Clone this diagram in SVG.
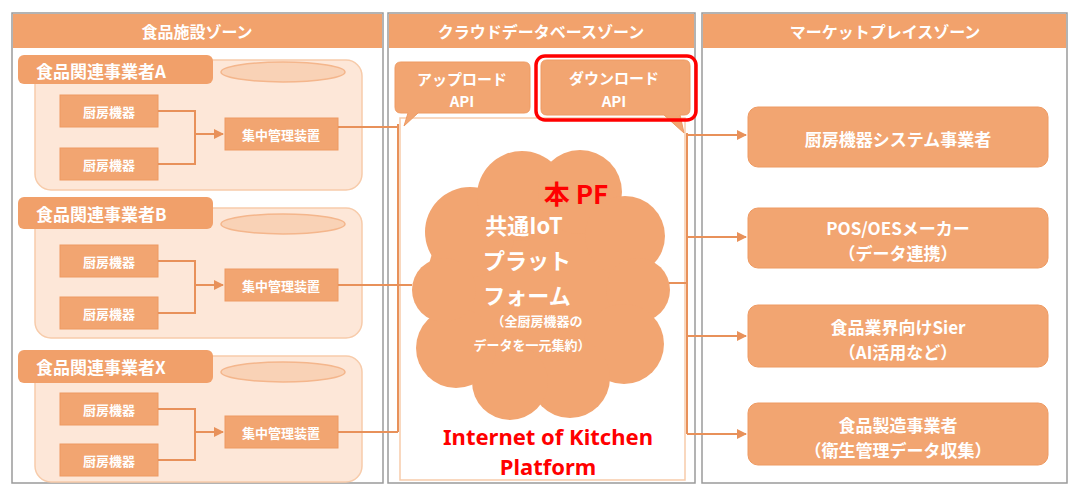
<svg xmlns="http://www.w3.org/2000/svg" width="1069" height="488" viewBox="0 0 1069 488">
<defs>
<style>
.zone{fill:#ffffff;stroke:#9a9a9a;stroke-width:1.5}
.hdr{fill:#F2A26C}
.ht{fill:#ffffff;font-family:"Noto Sans CJK JP","Noto Sans",sans-serif;font-weight:bold;font-size:16px;text-anchor:middle;dominant-baseline:central}
.reg{fill:#FDE7D8;stroke:#F7CBAA;stroke-width:1.5}
.tab{fill:#F1A06A}
.tt{fill:#ffffff;font-family:"Noto Sans CJK JP","Noto Sans",sans-serif;font-weight:bold;font-size:17px;dominant-baseline:central}
.ell{fill:#F9D2B6;stroke:#F4B68C;stroke-width:1.5}
.box{fill:#F2A571;stroke:#EE9A62;stroke-width:1}
.bt{fill:#ffffff;font-family:"Noto Sans CJK JP","Noto Sans",sans-serif;font-weight:bold;font-size:13px;text-anchor:middle;dominant-baseline:central}
.rt{fill:#ffffff;font-family:"Noto Sans CJK JP","Noto Sans",sans-serif;font-weight:bold;font-size:17px;text-anchor:middle;dominant-baseline:central}
.conn{fill:none;stroke:#E8915A;stroke-width:2}
.cloud{fill:#F2A571}
.ct{fill:#ffffff;font-family:"Noto Sans CJK JP","Noto Sans",sans-serif;font-weight:bold;text-anchor:middle;dominant-baseline:central}
.red{fill:#FF0000;font-family:"Noto Sans CJK JP","Noto Sans",sans-serif;font-weight:bold;text-anchor:middle;dominant-baseline:central}
.redl{fill:#FF0000;font-family:"Noto Sans","Liberation Sans",sans-serif;font-weight:bold;text-anchor:middle;font-size:22px}
</style>
<marker id="arr" viewBox="0 0 10 10" refX="9" refY="5" markerWidth="5" markerHeight="5" orient="auto">
<path d="M0,0 L10,5 L0,10 z" fill="#E8915A"/>
</marker>
</defs>
<rect width="1069" height="488" fill="#ffffff"/>

<g id="zone-food">
<rect class="zone" x="12" y="13" width="371" height="470"/>
<rect class="hdr" x="13" y="14" width="369" height="34"/>
<text class="ht" x="197" y="31">食品施設ゾーン</text>
</g>
<g id="zone-cloud">
<rect class="zone" x="388" y="13" width="307" height="470"/>
<rect class="hdr" x="389" y="14" width="305" height="34"/>
<text class="ht" x="541" y="31">クラウドデータベースゾーン</text>
</g>
<g id="zone-market">
<rect class="zone" x="702" y="13" width="365" height="470"/>
<rect class="hdr" x="703" y="14" width="363" height="34"/>
<text class="ht" x="885" y="31">マーケットプレイスゾーン</text>
</g>

<g id="biz-a">
<rect class="reg" x="35" y="60" width="327" height="130" rx="16"/>
<rect class="tab" x="18" y="55" width="195" height="29" rx="6"/>
<text class="tt" x="36" y="70">食品関連事業者A</text>
<ellipse class="ell" cx="283" cy="72" rx="62" ry="10"/>
<rect class="box" x="60" y="95" width="98" height="32"/><text class="bt" x="109" y="111">厨房機器</text>
<rect class="box" x="60" y="148" width="98" height="32"/><text class="bt" x="109" y="164">厨房機器</text>
<rect class="box" x="225" y="118" width="113" height="32"/><text class="bt" x="281" y="134">集中管理装置</text>
</g>
<g id="biz-b">
<rect class="reg" x="35" y="208" width="327" height="130" rx="16"/>
<rect class="tab" x="18" y="197" width="195" height="32" rx="6"/>
<text class="tt" x="36" y="213">食品関連事業者B</text>
<ellipse class="ell" cx="283" cy="224" rx="62" ry="10"/>
<rect class="box" x="60" y="245" width="98" height="32"/><text class="bt" x="109" y="261">厨房機器</text>
<rect class="box" x="60" y="297" width="98" height="32"/><text class="bt" x="109" y="313">厨房機器</text>
<rect class="box" x="225" y="269" width="113" height="32"/><text class="bt" x="281" y="285">集中管理装置</text>
</g>
<g id="biz-x">
<rect class="reg" x="35" y="356" width="327" height="126" rx="16"/>
<rect class="tab" x="18" y="350" width="195" height="33" rx="6"/>
<text class="tt" x="36" y="366">食品関連事業者X</text>
<ellipse class="ell" cx="283" cy="372" rx="62" ry="10"/>
<rect class="box" x="60" y="393" width="98" height="32"/><text class="bt" x="109" y="409">厨房機器</text>
<rect class="box" x="60" y="444" width="98" height="32"/><text class="bt" x="109" y="460">厨房機器</text>
<rect class="box" x="225" y="416" width="113" height="32"/><text class="bt" x="281" y="432">集中管理装置</text>
</g>

<g id="cloud-db">
<rect x="400" y="118" width="285" height="362" fill="#ffffff" stroke="#F7CBAA" stroke-width="1.5"/>
</g>
<g id="upload-api">
<path class="box" d="M401,62 H524 Q530,62 530,68 V107 Q530,113 524,113 H418 L404,126 L408,113 H401 Q395,113 395,107 V68 Q395,62 401,62 z"/>
<text class="rt" x="462" y="78" style="font-size:15px">アップロード</text>
<text class="rt" x="462" y="100" style="font-size:15px">API</text>
</g>
<g id="download-api">
<path class="box" d="M547,60 H684 Q690,60 690,66 V109 Q690,115 684,115 H680 L684,133 L664,115 H547 Q541,115 541,109 V66 Q541,60 547,60 z"/>
<text class="rt" x="614" y="77" style="font-size:15px">ダウンロード</text>
<text class="rt" x="614" y="100" style="font-size:15px">API</text>
<rect x="536" y="56" width="160" height="64" rx="9" fill="none" stroke="#FF0000" stroke-width="3.5"/>
</g>

<g id="iot-platform">
<g class="cloud">
<circle cx="538" cy="290" r="112"/>
<circle cx="470" cy="232" r="45"/>
<circle cx="522" cy="196" r="45"/>
<circle cx="580" cy="192" r="42"/>
<circle cx="625" cy="236" r="40"/>
<circle cx="638" cy="290" r="32"/>
<circle cx="624" cy="344" r="40"/>
<circle cx="570" cy="378" r="40"/>
<circle cx="510" cy="382" r="38"/>
<circle cx="456" cy="348" r="40"/>
<circle cx="444" cy="290" r="32"/>
</g>
<text class="red" x="576" y="192" style="font-size:26px">本 PF</text>
<text class="ct" x="524" y="224" style="font-size:22px">共通IoT</text>
<text class="ct" x="527" y="259" style="font-size:22px">プラット</text>
<text class="ct" x="527" y="294" style="font-size:22px">フォーム</text>
<text class="ct" x="537" y="320" style="font-size:13px">（全厨房機器の</text>
<text class="ct" x="532" y="344" style="font-size:13px">データを一元集約）</text>
</g>

<g id="iok-label">
<text class="redl" x="548" y="445">Internet of Kitchen</text>
<text class="redl" x="548" y="475">Platform</text>
</g>

<g id="m1"><rect class="box" x="748" y="107" width="300" height="60" rx="10"/><text class="rt" x="898" y="138">厨房機器システム事業者</text></g>
<g id="m2"><rect class="box" x="748" y="208" width="300" height="60" rx="10"/><text class="rt" x="898" y="227">POS/OESメーカー</text><text class="rt" x="898" y="252">（データ連携）</text></g>
<g id="m3"><rect class="box" x="748" y="305" width="300" height="62" rx="10"/><text class="rt" x="898" y="326">食品業界向けSier</text><text class="rt" x="898" y="351">（AI活用など）</text></g>
<g id="m4"><rect class="box" x="748" y="403" width="300" height="62" rx="10"/><text class="rt" x="898" y="424">食品製造事業者</text><text class="rt" x="898" y="449">（衛生管理データ収集）</text></g>

<g id="connectors">
<path class="conn" d="M158,111 H195 V164 H158"/>
<path class="conn" d="M195,134 H223" marker-end="url(#arr)"/>
<path class="conn" d="M158,261 H195 V313 H158"/>
<path class="conn" d="M195,285 H223" marker-end="url(#arr)"/>
<path class="conn" d="M158,409 H195 V460 H158"/>
<path class="conn" d="M195,432 H223" marker-end="url(#arr)"/>
<path class="conn" d="M338,127 H398"/>
<path class="conn" d="M338,285 H412"/>
<path class="conn" d="M338,432 H398"/>
<path class="conn" d="M398,124 V432"/>
<path class="conn" d="M669,283 H687"/>
<path class="conn" d="M687,133 V434"/>
<path class="conn" d="M687,135 H746" marker-end="url(#arr)"/>
<path class="conn" d="M687,237 H746" marker-end="url(#arr)"/>
<path class="conn" d="M687,336 H746" marker-end="url(#arr)"/>
<path class="conn" d="M687,434 H746" marker-end="url(#arr)"/>
</g>
</svg>
